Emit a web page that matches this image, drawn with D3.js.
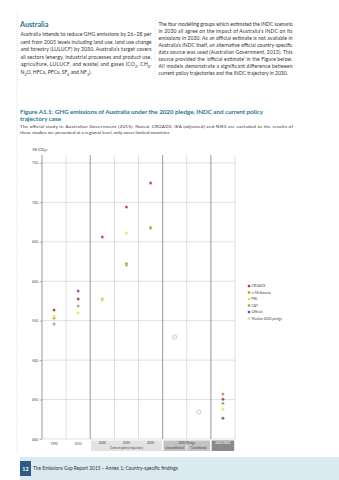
<!DOCTYPE html>
<html><head><meta charset="utf-8">
<script src="https://cdn.jsdelivr.net/npm/d3@7"></script>
<style>
html,body{margin:0;padding:0;background:#fff;}
svg{display:block;font-family:Lato,"Open Sans",sans-serif;}
</style></head>
<body>
<svg id="c" width="339" height="480"></svg>
<script>
// ---- data ----
const categories = ["1990","2012","2020","2025","2030","Unconditional","Conditional","INDC 2030"];
const croads      = [563.5, 577.4, 656,   694,   724.6, null, null, 450.5];
const uMelbourne  = [553.3, null,  577.5, 620.5, 668.5, null, null, 456.9];
const pbl         = [556,   559.7, 576,   661,   667,   null, null, 437.8];
const cat         = [545.7, 568.5, null,  622.5, 667.5, null, null, 445.4];
const official    = [null,  587.6, null,  null,  null,  null, null, 426.4];
const medianPledge= [null,  null,  null,  null,  null,  529.2, 434, null];
const seriesNames = ["CROADS","u-Melbourne","PBL","CAT","Official","Median 2020 pledge"];
const yTicks = [400,450,500,550,600,650,700,750];

const seriesColors = ["#b03a55","#a9a03c","#f1e04a","#8fae57","#83489a","#d6d6c6"];

const svg = d3.select("#c");
const teal = "#2a7590";
const textCol = "#333";

// ---- page decoration ----
svg.append("line").attr("x1",17).attr("x2",17).attr("y1",14).attr("y2",452)
  .attr("stroke","#bbb").attr("stroke-width",0.7).attr("stroke-dasharray","0.8,1.6");
svg.append("line").attr("x1",155).attr("x2",155).attr("y1",18).attr("y2",80)
  .attr("stroke","#ccc").attr("stroke-width",0.6).attr("stroke-dasharray","0.8,1.6");

svg.append("text").attr("x",20).attr("y",26.5).attr("fill",teal)
  .attr("font-size",7.2).attr("font-weight","bold").text("Australia");

function addLine(x, y, width, parts, size, justify, opts={}){
  const t = svg.append("text").attr("x",x).attr("y",y).attr("font-size",size)
    .attr("fill",opts.fill||textCol).attr("font-weight",opts.weight||"normal");
  const sh = size*0.3;
  let lowered = false;
  parts.forEach(p=>{
    if(typeof p === "string"){
      const ts = t.append("tspan").text(p);
      if(lowered){ ts.attr("dy",-sh); lowered=false; }
    } else {
      t.append("tspan").attr("dy",sh).attr("font-size",size*0.7).text(p.sub);
      lowered = true;
    }
  });
  if(justify){ t.attr("textLength",width).attr("lengthAdjust","spacing"); }
  return t;
}

const leftLines = [
  ["Australia intends to reduce GHG emissions by 26–28 per"],
  ["cent from 2005 levels including land use, land use change"],
  ["and forestry (LULUCF) by 2030. Australia’s target covers"],
  ["all sectors (energy, industrial processes and product use,"],
  ["agriculture, LULUCF, and waste) and gases (CO",{sub:"2"},", CH",{sub:"4"},","],
  ["N",{sub:"2"},"O, HFCs, PFCs, SF",{sub:"6"}," and NF",{sub:"3"},")."]
];
leftLines.forEach((l,i)=> addLine(20.5, 36 + i*7.6, 131, l, 5.1, i<leftLines.length-1));

const rightLines = [
  "The four modelling groups which estimated the INDC scenario",
  "in 2030 all agree on the impact of Australia’s INDC on its",
  "emissions in 2030. As an official estimate is not available in",
  "Australia’s INDC itself, an alternative official country-specific",
  "data source was used (Australian Government, 2015). This",
  "source provided the ‘official estimate’ in the Figure below.",
  "All models demonstrate a significant difference between",
  "current policy trajectories and the INDC trajectory in 2030."
];
rightLines.forEach((l,i)=> addLine(158.5, 25.8 + i*6.96, 134, [l], 5.0, i<rightLines.length-1));

addLine(20, 114.3, 243, ["Figure A1.1: GHG emissions of Australia under the 2020 pledge, INDC and current policy"], 6.3, true, {fill:teal, weight:"bold"});
addLine(20, 121.3, 0, ["trajectory case"], 6.3, false, {fill:teal, weight:"bold"});
addLine(20, 128, 273, ["The official study is: Australian Government (2015). Noted, CROADS, IEA (adjusted) and NIES are excluded as the results of"], 4.6, true);
addLine(20, 133.6, 0, ["these studies are presented at a regional level, only cover limited countries"], 4.6, false);

// ---- chart ----
const x = d3.scaleBand().domain(categories).range([42,235]).padding(0);
const y = d3.scaleLinear().domain([400,760]).range([439,155]);

const g = svg.append("g");
g.selectAll("line.h").data(yTicks).join("line")
  .attr("x1",42).attr("x2",235).attr("y1",d=>y(d)).attr("y2",d=>y(d))
  .attr("stroke","#d2d2d2").attr("stroke-width",0.7);
const bounds = categories.map(c=>x(c)).concat([x.range()[1]]);
const darkIdx = new Set([0,2,5,7]);
g.selectAll("line.v").data(bounds).join("line")
  .attr("x1",d=>d).attr("x2",d=>d).attr("y1",y(760)).attr("y2",y(400))
  .attr("stroke",(d,i)=>darkIdx.has(i)?"#a0a0a0":"#d0d0d0")
  .attr("stroke-width",(d,i)=>darkIdx.has(i)?1.1:0.7);

const yAxis = d3.axisLeft(y).tickValues(yTicks).tickSize(2.5).tickPadding(1.5);
const ya = svg.append("g").attr("transform","translate(42,0)").call(yAxis);
ya.select(".domain").remove();
ya.selectAll(".tick line").attr("stroke","#666").attr("stroke-width",0.5);
ya.selectAll(".tick text").attr("font-size",3.4).attr("fill","#444").attr("font-family","Lato,sans-serif");

const ul = svg.append("text").attr("x",32.5).attr("y",151).attr("font-size",3.8).attr("fill","#333");
ul.append("tspan").text("Mt CO");
ul.append("tspan").attr("dy",0.9).attr("font-size",2.7).text("2");
ul.append("tspan").attr("dy",-0.9).text("e");

// ---- x category labels / bands ----
const bTop = 440.5, bBot = 451;
const xb = svg.append("g").attr("font-size",3.1).attr("text-anchor","middle").attr("fill","#444");
["1990","2012"].forEach(c=>{
  xb.append("text").attr("x",x(c)+x.bandwidth()/2).attr("y",445.2).text(c);
});
xb.append("rect").attr("x",x("2020")+0.8).attr("y",bTop).attr("width",x.bandwidth()*3-1.6).attr("height",bBot-bTop).attr("fill","#e2e2e2");
["2020","2025","2030"].forEach(c=>{
  xb.append("text").attr("x",x(c)+x.bandwidth()/2).attr("y",443.6).text(c);
});
xb.append("text").attr("x",x("2025")+x.bandwidth()/2).attr("y",449.2).text("Current policy trajectory");
xb.append("rect").attr("x",x("Unconditional")+0.8).attr("y",bTop).attr("width",x.bandwidth()*2-1.6).attr("height",bBot-bTop).attr("fill","#c3c3c3");
xb.append("line").attr("x1",x("Conditional")).attr("x2",x("Conditional")).attr("y1",445.3).attr("y2",bBot).attr("stroke","#fff").attr("stroke-width",0.8);
xb.append("text").attr("x",x("Conditional")).attr("y",443.6).text("2020 Pledge");
["Unconditional","Conditional"].forEach(c=>{
  xb.append("text").attr("x",x(c)+x.bandwidth()/2).attr("y",449.2).text(c);
});
xb.append("rect").attr("x",x("INDC 2030")+0.8).attr("y",bTop).attr("width",x.bandwidth()-1.6).attr("height",bBot-bTop).attr("fill","#8a8a8a");
xb.append("text").attr("x",x("INDC 2030")+x.bandwidth()/2).attr("y",443.6).attr("fill","#fff").text("2030 INDC");

// ---- points ----
const seriesData = [croads,uMelbourne,pbl,cat,official];
const pts = [];
seriesData.forEach((arr,si)=>arr.forEach((v,i)=>{ if(v!=null) pts.push({c:categories[i],v,si}); }));
svg.append("g").selectAll("circle").data(pts).join("circle")
  .attr("cx",d=>x(d.c)+x.bandwidth()/2).attr("cy",d=>y(d.v)).attr("r",1.5)
  .attr("fill",d=>seriesColors[d.si]).attr("stroke","#fff").attr("stroke-opacity",0.6).attr("stroke-width",0.5);
const mp = medianPledge.map((v,i)=>({c:categories[i],v})).filter(d=>d.v!=null);
svg.append("g").selectAll("circle").data(mp).join("circle")
  .attr("cx",d=>x(d.c)+x.bandwidth()/2).attr("cy",d=>y(d.v)).attr("r",2.2)
  .attr("fill","#f6f6f0").attr("stroke","#c9c9b8").attr("stroke-width",0.8);

// ---- legend ----
const lg = svg.append("g").attr("transform","translate(249,0)");
seriesNames.forEach((n,i)=>{
  const yy = 286 + i*6.5;
  lg.append("rect").attr("x",-1.2).attr("y",yy-1.2).attr("width",2.4).attr("height",2.4).attr("fill",seriesColors[i]);
  lg.append("text").attr("x",2.6).attr("y",yy+1.2).attr("font-size",3.4).attr("fill","#444").text(n);
});

// ---- footer ----
svg.append("rect").attr("x",20).attr("y",457).attr("width",319).attr("height",23).attr("fill","#dbe9f1");
svg.append("rect").attr("x",20).attr("y",461).attr("width",11).attr("height",15).attr("fill","#2c5a85");
svg.append("text").attr("x",25.5).attr("y",471).attr("text-anchor","middle").attr("font-size",5.5).attr("font-weight","bold").attr("fill","#fff").text("12");
svg.append("text").attr("x",33).attr("y",470).attr("font-size",4.8).attr("fill","#333").text("The Emissions Gap Report 2015 – Annex 1: Country-specific findings");
</script>
</body></html>
